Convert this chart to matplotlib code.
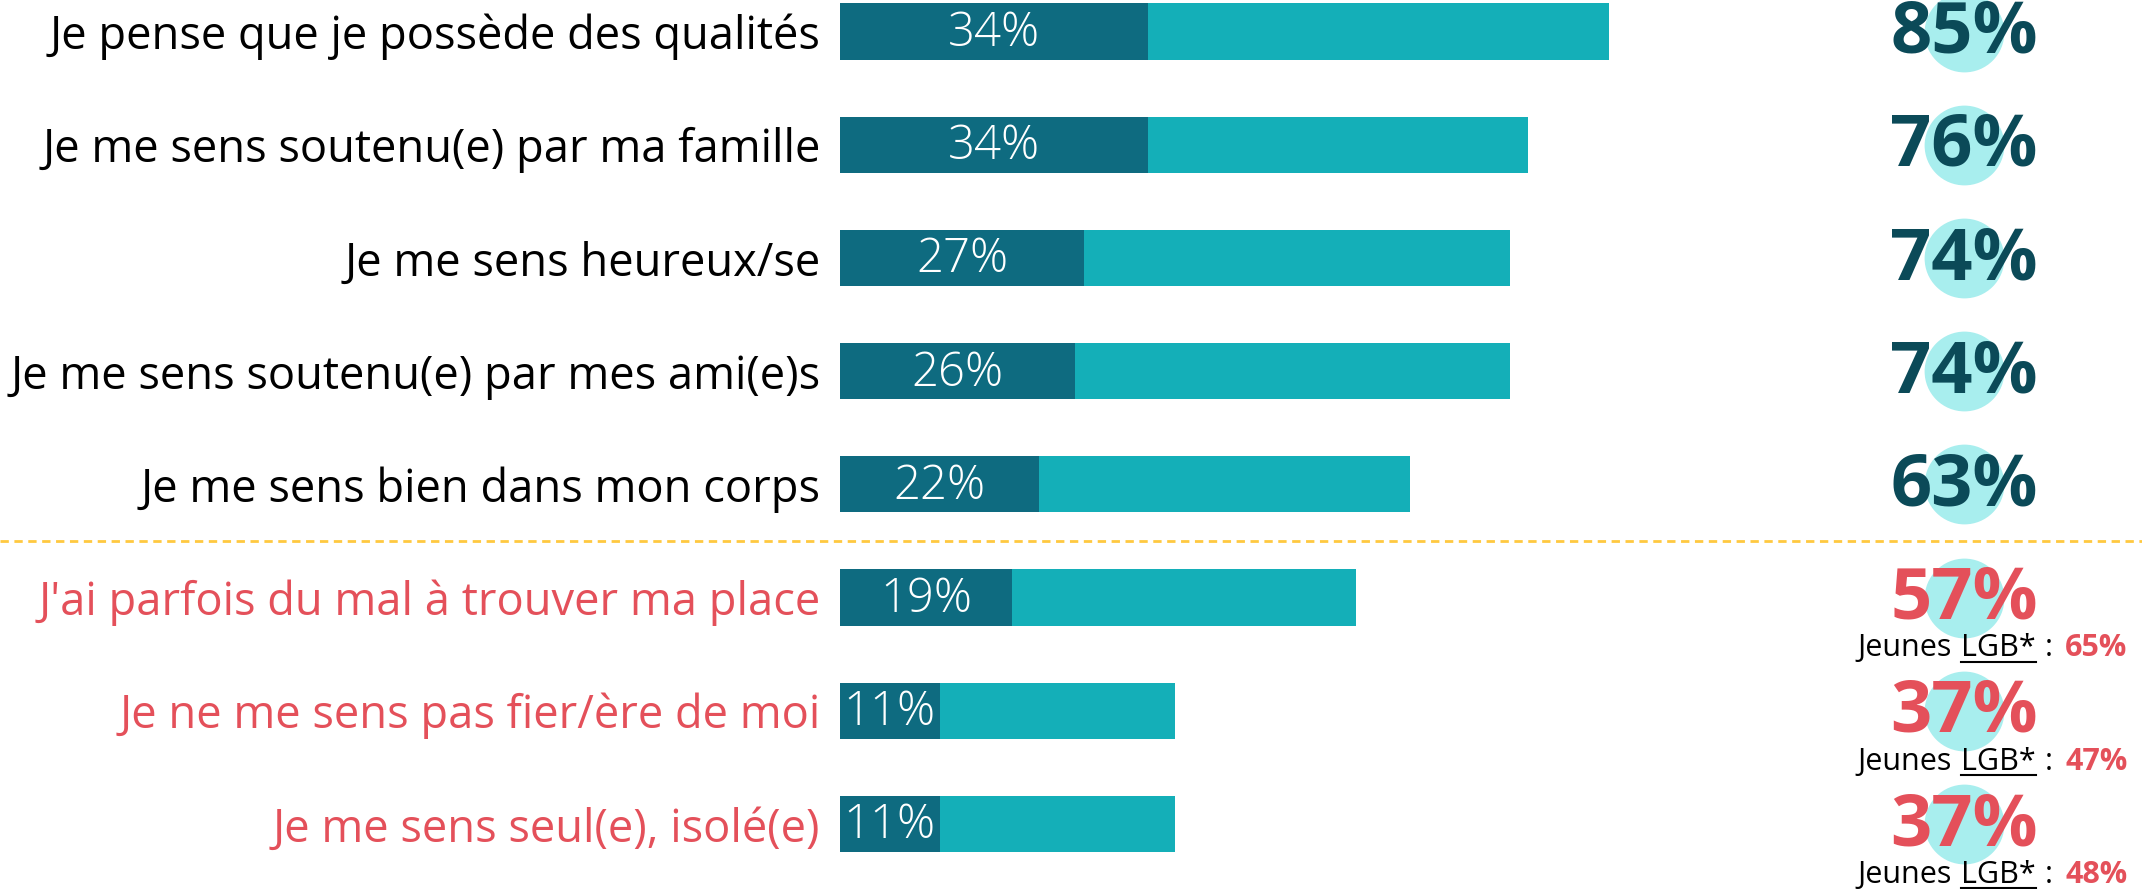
import matplotlib
matplotlib.use("Agg")
import matplotlib.pyplot as plt
from matplotlib import transforms
from matplotlib.lines import Line2D
import numpy as np

plt.rcParams['font.family'] = ['Open Sans', 'DejaVu Sans']

labels = [
    "Je pense que je possède des qualités",
    "Je me sens soutenu(e) par ma famille",
    "Je me sens heureux/se",
    "Je me sens soutenu(e) par mes ami(e)s",
    "Je me sens bien dans mon corps",
    "J'ai parfois du mal à trouver ma place",
    "Je ne me sens pas fier/ère de moi",
    "Je me sens seul(e), isolé(e)",
]
tout_a_fait = [34, 34, 27, 26, 22, 19, 11, 11]
total = [85, 76, 74, 74, 63, 57, 37, 37]
negative = [False, False, False, False, False, True, True, True]
lgb = [None, None, None, None, None, 65, 47, 48]

DARK = '#0E6B80'
LIGHT = '#14AFB8'
NAVY = '#0B4A58'
RED = '#E4505A'
CIRCLE = '#A8EEEE'
YELLOW = '#FFC940'

W, H = 2142, 889
fig = plt.figure(figsize=(W / 100, H / 100), dpi=100)
left_px = 840
ax = fig.add_axes([left_px / W, 0, 1 - left_px / W, 1])

px_per_pct = 9.05
pitch = 113.2
first_center = 31.5
ax.set_xlim(0, (W - left_px) / px_per_pct)
ax.set_ylim((H - first_center) / pitch, -first_center / pitch)

y = np.arange(len(labels))
dark = np.array(tout_a_fait)
tot = np.array(total)
ax.barh(y, dark, height=0.495, color=DARK, edgecolor='none')
ax.barh(y, tot - dark, left=dark, height=0.495, color=LIGHT, edgecolor='none')

for i, v in enumerate(tout_a_fait):
    ax.text(v / 2, i + 0.02, f"{v}%", ha='center', va='center',
            color='white', fontsize=34, fontweight='light')

ax.set_yticks(y, labels)
ax.tick_params(axis='y', length=0, pad=14, labelsize=32.6)
for tl, neg in zip(ax.get_yticklabels(), negative):
    tl.set_color(RED if neg else 'black')
ax.set_xticks([])
for s in ax.spines.values():
    s.set_visible(False)

# right column: big totals over a light circle
num_x = (1964 - left_px) / px_per_pct
ax.scatter([num_x] * len(total), y, s=3300, color=CIRCLE, zorder=2,
           linewidths=0)
for i, (v, neg) in enumerate(zip(total, negative)):
    ax.text(num_x, i + 0.02, f"{v}%", ha='center', va='center',
            color=RED if neg else NAVY, fontsize=52, fontweight='bold',
            zorder=3)

# separator
sep = transforms.blended_transform_factory(fig.transFigure, ax.transData)
fig.add_artist(Line2D([0, 1], [4.5, 4.5], transform=sep, color=YELLOW,
                      lw=2, dashes=(3, 2)))

# "Jeunes LGB* : xx%" notes
renderer = fig.canvas.get_renderer()
note_x = (1857 - left_px) / px_per_pct
for i, v in enumerate(lgb):
    if v is None:
        continue
    pieces = [("Jeunes", 'black', 'normal', 10),
              ("LGB*", 'black', 'normal', 9),
              (":", 'black', 'normal', 12),
              (f"{v}%", RED, 'bold', 0)]
    dx = 0
    for txt, col, wt, gap in pieces:
        tr = transforms.offset_copy(ax.transData, fig=fig, x=dx, y=-59,
                                    units='dots')
        t = ax.text(note_x, i, txt, transform=tr, ha='left', va='baseline',
                    color=col, fontsize=22, fontweight=wt, zorder=4)
        bb = t.get_window_extent(renderer)
        if txt == "LGB*":
            base = ax.transData.transform((note_x, i))[1] - 59
            fig.add_artist(Line2D([bb.x0, bb.x1], [base - 5, base - 5],
                                  transform=None, color='black', lw=1.5))
        dx += bb.width + gap

fig.savefig("out.png", dpi=100)
